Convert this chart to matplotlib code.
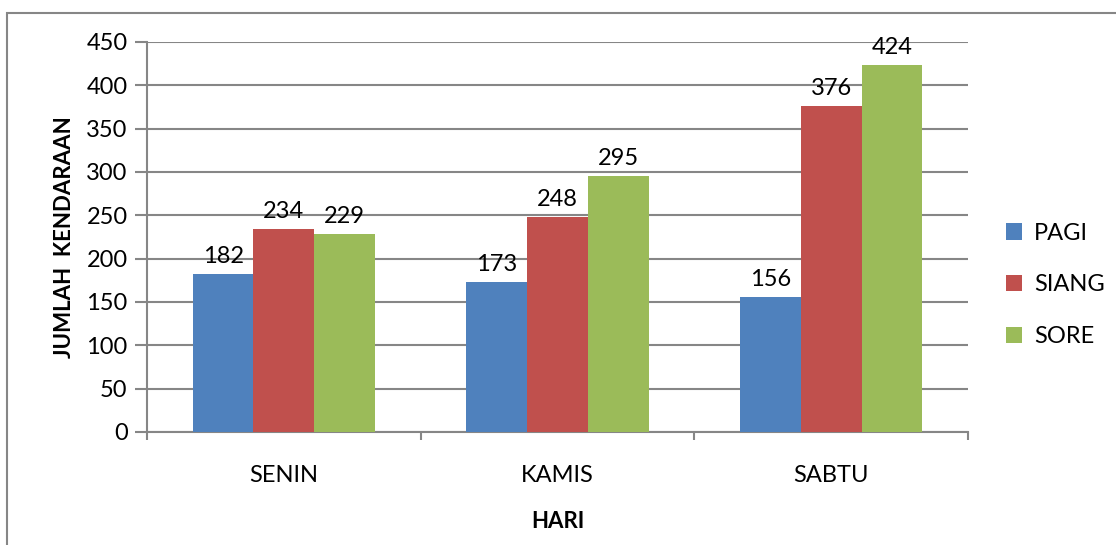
import matplotlib.pyplot as plt
import numpy as np
from matplotlib.patches import Rectangle

# data
hari = ['SENIN', 'KAMIS', 'SABTU']
pagi = [182, 173, 156]
siang = [234, 248, 376]
sore = [229, 295, 424]
series_names = ['PAGI', 'SIANG', 'SORE']
colors = ['#4F81BD', '#C0504D', '#9BBB59']

plt.rcParams['font.family'] = ['Lato', 'DejaVu Sans']
grey = '#868686'
fs = 17

fig = plt.figure(figsize=(11.16, 5.45), dpi=100)
# chart border (runs off right and bottom edges, like the screenshot)
fig.patches.append(Rectangle((7 / 1116, -0.1), 1.2, 1 - 13 / 545 + 0.1,
                             transform=fig.transFigure, fill=False,
                             edgecolor=grey, linewidth=1.5))

ax = fig.add_axes([147 / 1116, 1 - 432 / 545, (968 - 147) / 1116, (432 - 42) / 545])

x = np.arange(len(hari))
w = 1 / 4.5
for i, (vals, name, c) in enumerate(zip([pagi, siang, sore], series_names, colors)):
    bars = ax.bar(x + (i - 1) * w, vals, w, color=c, label=name, zorder=3)
    for b, v in zip(bars, vals):
        ax.text(b.get_x() + b.get_width() / 2, v + 8, str(v), ha='center', va='bottom',
                fontsize=fs, color='black')

ax.set_xlim(-0.5, 2.5)
ax.set_ylim(0, 450)
ax.set_yticks(np.arange(0, 451, 50))
ax.yaxis.grid(True, color=grey, linewidth=1.5, zorder=0)
ax.set_axisbelow(True)

ax.set_xticks(x)
ax.set_xticklabels(hari)
ax.set_xticks([-0.5, 0.5, 1.5, 2.5], minor=True)
ax.tick_params(axis='x', which='major', length=0, pad=24, labelsize=fs)
ax.tick_params(axis='x', which='minor', length=6, width=1.5, color=grey, direction='out')
ax.tick_params(axis='y', length=9, width=1.5, color=grey, labelsize=fs, pad=5)

for s in ['top', 'right']:
    ax.spines[s].set_visible(False)
for s in ['left', 'bottom']:
    ax.spines[s].set_color(grey)
    ax.spines[s].set_linewidth(1.5)

ax.set_xlabel('HARI', fontsize=16, fontweight='bold', labelpad=18)
ax.set_ylabel('JUMLAH  KENDARAAN', fontsize=16, fontweight='bold')
ax.yaxis.set_label_coords(-0.088, 0.5)

ax.legend(loc='center left', bbox_to_anchor=(1.02, 0.377), frameon=False,
          fontsize=fs, handlelength=0.7, handleheight=0.7, labelspacing=1.3,
          handletextpad=0.5)

plt.savefig('out.png', dpi=100)
